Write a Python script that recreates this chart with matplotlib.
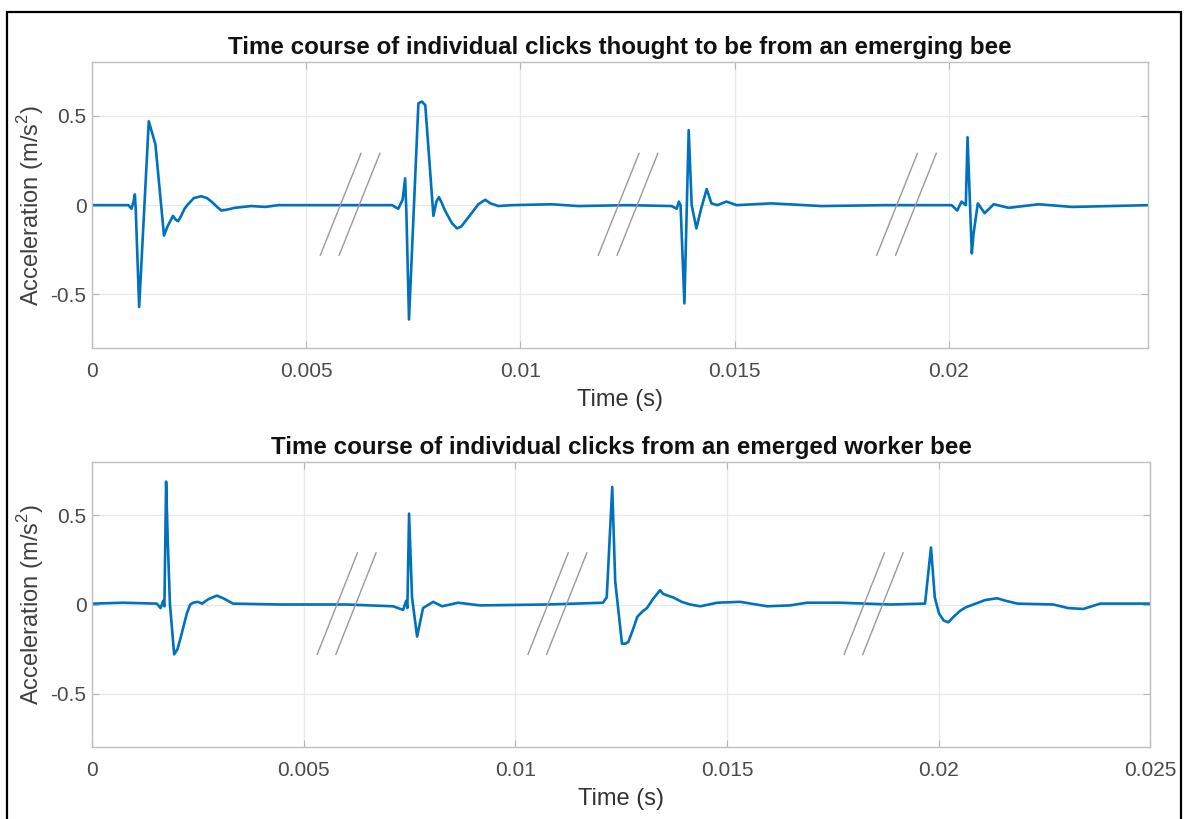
import numpy as np
import matplotlib
matplotlib.use("Agg")
import matplotlib.pyplot as plt
from matplotlib.patches import Rectangle

plt.rcParams['font.family'] = ['Liberation Sans', 'DejaVu Sans']
plt.rcParams['mathtext.fontset'] = 'custom'
plt.rcParams['mathtext.rm'] = 'Liberation Sans'

# clicks from an emerging bee (time in ms, acceleration in m/s^2)
top_t_ms = [0.02, 0.50, 0.85, 0.92, 0.97, 1.00, 1.02, 1.10, 1.325, 1.48, 1.68, 1.76,
            1.89, 1.95, 2.01, 2.08, 2.16, 2.24, 2.38, 2.55, 2.68, 2.79, 2.92, 3.02,
            3.15, 3.33, 3.72, 4.04, 4.35, 5.5, 6.5,
            7.0, 7.15, 7.25, 7.31, 7.34, 7.40, 7.62, 7.70, 7.78, 7.97, 8.04, 8.10,
            8.17, 8.24, 8.40, 8.52, 8.62, 8.78, 9.02, 9.18, 9.30, 9.49, 9.80, 10.73,
            11.35, 12.5, 13.53, 13.65, 13.70, 13.74, 13.83, 13.93, 14.00, 14.11,
            14.22, 14.35, 14.46, 14.60, 14.81, 15.05, 15.86, 17.03, 18.5, 20.07,
            20.20, 20.30, 20.40, 20.44, 20.54, 20.58, 20.68, 20.84, 21.05, 21.40,
            22.10, 22.88, 24.67]
top_acc = [0.0, 0.0, 0.0, -0.02, 0.02, 0.06, -0.02, -0.57, 0.47, 0.34, -0.17, -0.12,
           -0.06, -0.08, -0.09, -0.06, -0.02, 0.005, 0.04, 0.05, 0.04, 0.02, -0.01, -0.03,
           -0.025, -0.015, -0.005, -0.01, 0.0, 0.0, 0.0,
           0.0, -0.02, 0.03, 0.15, -0.05, -0.64, 0.57, 0.58, 0.56, -0.06, 0.02, 0.045,
           0.01, -0.03, -0.10, -0.13, -0.12, -0.07, 0.005, 0.03, 0.01, -0.005, 0.0, 0.005,
           -0.005, 0.0, -0.005, -0.02, 0.02, 0.0, -0.55, 0.42, 0.0, -0.13,
           -0.02, 0.09, 0.01, 0.0, 0.02, 0.0, 0.01, -0.005, 0.0, 0.0,
           -0.03, 0.02, 0.0, 0.38, -0.27, -0.16, 0.01, -0.045, 0.005, -0.015,
           0.005, -0.01, 0.0]

# clicks from an emerged worker bee
bot_t_ms = [0.02, 0.73, 1.53, 1.62, 1.68, 1.71, 1.75, 1.79, 1.84, 1.94, 2.02, 2.10,
            2.24, 2.32, 2.39, 2.50, 2.60, 2.75, 2.95, 3.10, 3.33, 4.44, 6.0, 7.11,
            7.35, 7.42, 7.45, 7.49, 7.56, 7.68, 7.82, 8.06, 8.27, 8.65, 9.17, 10.75,
            12.07, 12.16, 12.29, 12.36, 12.52, 12.60, 12.67, 12.78, 12.88, 13.00,
            13.11, 13.25, 13.42, 13.49, 13.60, 13.73, 13.93, 14.13, 14.37, 14.77,
            15.31, 15.95, 16.49, 16.89, 17.67, 18.86, 19.68, 19.82, 19.91, 20.01,
            20.12, 20.23, 20.35, 20.51, 20.65, 20.82, 21.10, 21.38, 21.60, 21.86,
            22.71, 23.06, 23.42, 23.82, 25.0]
bot_acc = [0.005, 0.01, 0.005, -0.02, 0.02, -0.01, 0.69, 0.35, 0.005, -0.28, -0.25, -0.18,
           -0.05, 0.0, 0.01, 0.015, 0.005, 0.03, 0.05, 0.035, 0.005, 0.0, 0.0, -0.01,
           -0.03, 0.02, -0.02, 0.51, 0.04, -0.18, -0.02, 0.015, -0.01, 0.01, -0.005, 0.0,
           0.01, 0.04, 0.66, 0.13, -0.22, -0.22, -0.21, -0.14, -0.07, -0.04,
           -0.02, 0.03, 0.08, 0.06, 0.05, 0.04, 0.015, 0.0, -0.01, 0.01,
           0.015, -0.01, -0.005, 0.01, 0.01, 0.0, 0.005, 0.32, 0.04, -0.05,
           -0.09, -0.1, -0.07, -0.035, -0.015, 0.0, 0.025, 0.035, 0.02, 0.005,
           0.0, -0.02, -0.025, 0.005, 0.005]

top_breaks = [0.00533, 0.01182, 0.01832]
bot_breaks = [0.00532, 0.01030, 0.01777]

x_ticks = [0, 0.005, 0.01, 0.015, 0.02, 0.025]
x_labels = ['0', '0.005', '0.01', '0.015', '0.02', '0.025']
y_ticks = [-0.5, 0, 0.5]
y_labels = ['-0.5', '0', '0.5']

titles = ['Time course of individual clicks thought to be from an emerging bee',
          'Time course of individual clicks from an emerged worker bee']

fig = plt.figure(figsize=(11.89, 8.19), dpi=100)
ax_top = fig.add_axes([0.0774, 0.575, 0.888, 0.349])
ax_bot = fig.add_axes([0.0774, 0.0879, 0.890, 0.348])

panels = [(ax_top, top_t_ms, top_acc, top_breaks, 0.02465),
          (ax_bot, bot_t_ms, bot_acc, bot_breaks, 0.025)]

for i, (ax, t_ms, acc, breaks, xmax) in enumerate(panels):
    t = np.array(t_ms) / 1000.0
    ax.plot(t, acc, color='#0072BD', lw=1.9, solid_joinstyle='round')

    # break marks between the clicks
    for b in breaks:
        for off in (0.0, 0.00044):
            ax.plot([b + off, b + off + 0.00095], [-0.28, 0.29],
                    color='#9a9a9a', lw=1.0)

    ticks = [(v, s) for v, s in zip(x_ticks, x_labels) if v <= xmax + 1e-9]
    ax.set_xlim(0, xmax)
    ax.set_ylim(-0.8, 0.8)
    ax.set_xticks([v for v, s in ticks])
    ax.set_xticklabels([s for v, s in ticks])
    ax.set_yticks(y_ticks)
    ax.set_yticklabels(y_labels)
    ax.grid(True, color='#e8e8e8', lw=0.9)
    ax.set_axisbelow(True)
    ax.tick_params(direction='in', length=5, width=0.8, color='#b5b5b5',
                   labelsize=15, labelcolor='#4a4a4a', top=True, right=True)
    ax.tick_params(axis='x', pad=10)
    ax.tick_params(axis='y', pad=4)
    for sp in ax.spines.values():
        sp.set_color('#c0c0c0')
        sp.set_linewidth(1.0)
    ax.set_title(titles[i], fontsize=17.4, fontweight='bold', color='#111111', pad=6)
    ax.set_xlabel('Time (s)', fontsize=17, color='#333333', labelpad=6)
    ax.set_ylabel('Acceleration (m/s$^{\\mathregular{2}}$)', fontsize=17,
                  color='#404040', labelpad=3)

# outer frame
fig.add_artist(Rectangle((0.0059, -0.05), 0.9874, 1.0353, transform=fig.transFigure,
                         fill=False, edgecolor='black', lw=1.6))

fig.savefig('out.png', dpi=100)
